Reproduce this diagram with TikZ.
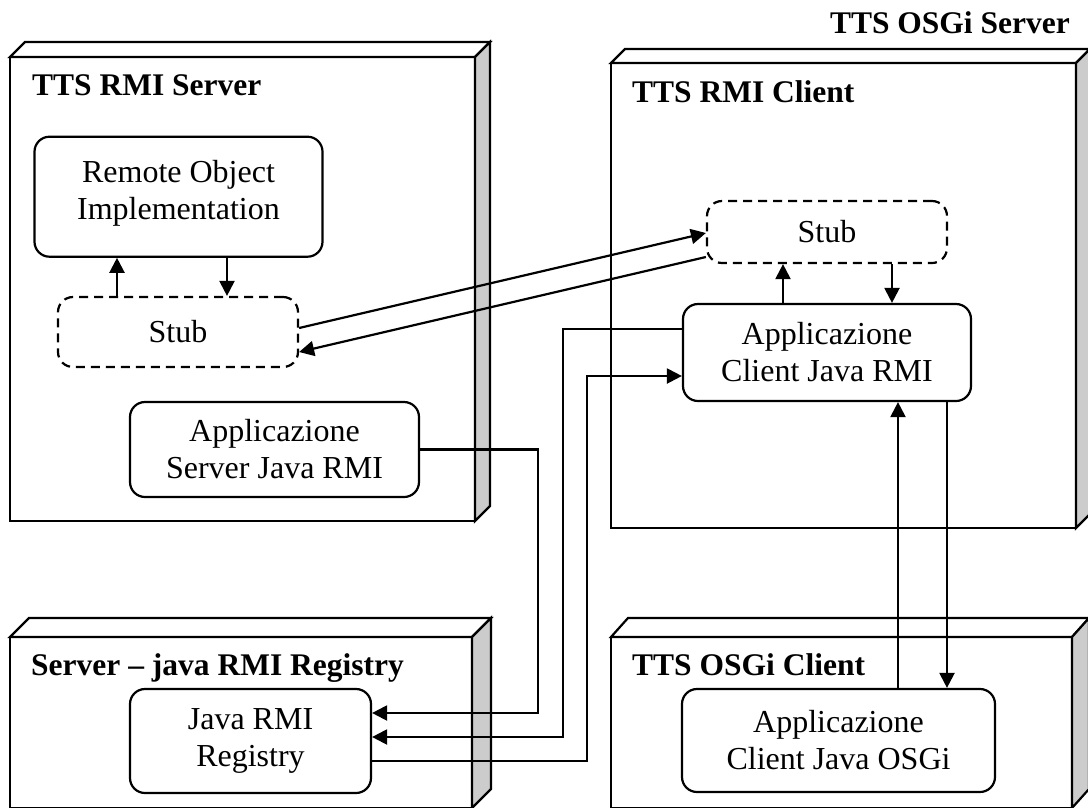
\documentclass[tikz,border=0pt]{standalone}
\usepackage{fontspec}
\setmainfont{Liberation Serif}
\usetikzlibrary{arrows.meta,calc}

\tikzset{
  face/.style={draw=black, line width=2.2pt, fill=white},
  sideface/.style={draw=black, line width=2.2pt, fill=gray!40},
  comp/.style={draw=black, line width=2.2pt, rounded corners=15pt, fill=white,
    align=center, inner sep=0pt, font=\fontsize{32}{37}\selectfont},
  stubbox/.style={comp, dash pattern=on 9pt off 6pt},
  title/.style={anchor=base west, inner sep=0pt, font=\fontsize{31.5}{37}\selectfont\bfseries},
  conn/.style={line width=2.2pt},
  arr/.style={conn, -{Triangle[length=15pt,width=15pt]}},
}

% deployment node drawn as a slab: front x1 y1 x2 y2, depth dx dy
\newcommand{\deploybox}[6]{%
  \draw[face] (#1,#2) rectangle (#3,#4);
  \draw[face] (#1,#2) -- ++(#5,-#6) -- (#3+#5,#2-#6) -- (#3,#2) -- cycle;
  \draw[sideface] (#3,#2) -- ++(#5,-#6) -- (#3+#5,#4-#6) -- (#3,#4) -- cycle;
}

\begin{document}
\begin{tikzpicture}[x=1pt,y=-1pt]
\useasboundingbox (0,0) rectangle (1088,807);
\clip (0,0) rectangle (1088,807);

% deployment nodes
\deploybox{10}{57}{475}{521}{15}{15}
\deploybox{611}{63}{1076}{528}{14}{14}
\deploybox{10}{637}{472}{808}{19}{19}
\deploybox{611}{637}{1072}{808}{17}{19}

% titles
\node[title, anchor=base east] (tOSGiS) at (1070,33) {TTS OSGi Server};
\node[title] (tRMIS) at (32,95) {TTS RMI Server};
\node[title] (tRMIC) at (632,102) {TTS RMI Client};
\node[title] (tReg) at (31,675) {Server – java RMI Registry};
\node[title] (tOSGiC) at (632,675) {TTS OSGi Client};

% components
\node[comp, minimum width=288pt, minimum height=120pt, text depth=14pt] (roi) at (178.5,196.7) {Remote Object\\Implementation};
\node[stubbox, minimum width=240pt, minimum height=70pt] (stubL) at (178,332) {Stub};
\node[comp, minimum width=289pt, minimum height=95pt] (appS) at (274.5,449.5) {Applicazione\\Server Java RMI};
\node[stubbox, minimum width=240pt, minimum height=62pt] (stubR) at (827,232) {Stub};
\node[comp, minimum width=288pt, minimum height=97pt] (appC) at (827,352.5) {Applicazione\\Client Java RMI};
\node[comp, minimum width=241pt, minimum height=104pt] (reg) at (250.5,741) {Java RMI\\Registry};
\node[comp, minimum width=313pt, minimum height=103pt] (osgi) at (838.5,740.5) {Applicazione\\Client Java OSGi};

% implementation <-> stub
\coordinate (c1) at (117,0);
\coordinate (c2) at (227,0);
\draw[arr] (stubL.north -| c1) -- (roi.south -| c1);
\draw[arr] (roi.south -| c2) -- (stubL.north -| c2);

% client stub <-> client application
\coordinate (c3) at (783,0);
\coordinate (c4) at (892,0);
\draw[arr] (appC.north -| c3) -- (stubR.south -| c3);
\draw[arr] (stubR.south -| c4) -- (appC.north -| c4);

% OSGi client <-> RMI client
\coordinate (c5) at (898,0);
\coordinate (c6) at (947,0);
\draw[arr] (osgi.north -| c5) -- (appC.south -| c5);
\draw[arr] (appC.south -| c6) -- (osgi.north -| c6);

% stub <-> stub
\draw[arr] ($(stubL.east)+(0,-4)$) -- ($(stubR.west)+(0,1)$);
\draw[arr] ($(stubR.west)+(0,25)$) -- ($(stubL.east)+(0,20)$);

% registry links
\coordinate (b1) at (538,713);
\draw[arr] (appS.east) -| (b1) -- (reg.east |- b1);
\coordinate (b2) at (563,329);
\coordinate (b2d) at (563,737);
\draw[arr] (appC.west |- b2) -- (b2) -- (b2d) -- (reg.east |- b2d);
\coordinate (b3) at (587,761);
\coordinate (b3u) at (587,376);
\draw[arr] (reg.east |- b3) -- (b3) -- (b3u) -- (appC.west |- b3u);
\end{tikzpicture}
\end{document}
